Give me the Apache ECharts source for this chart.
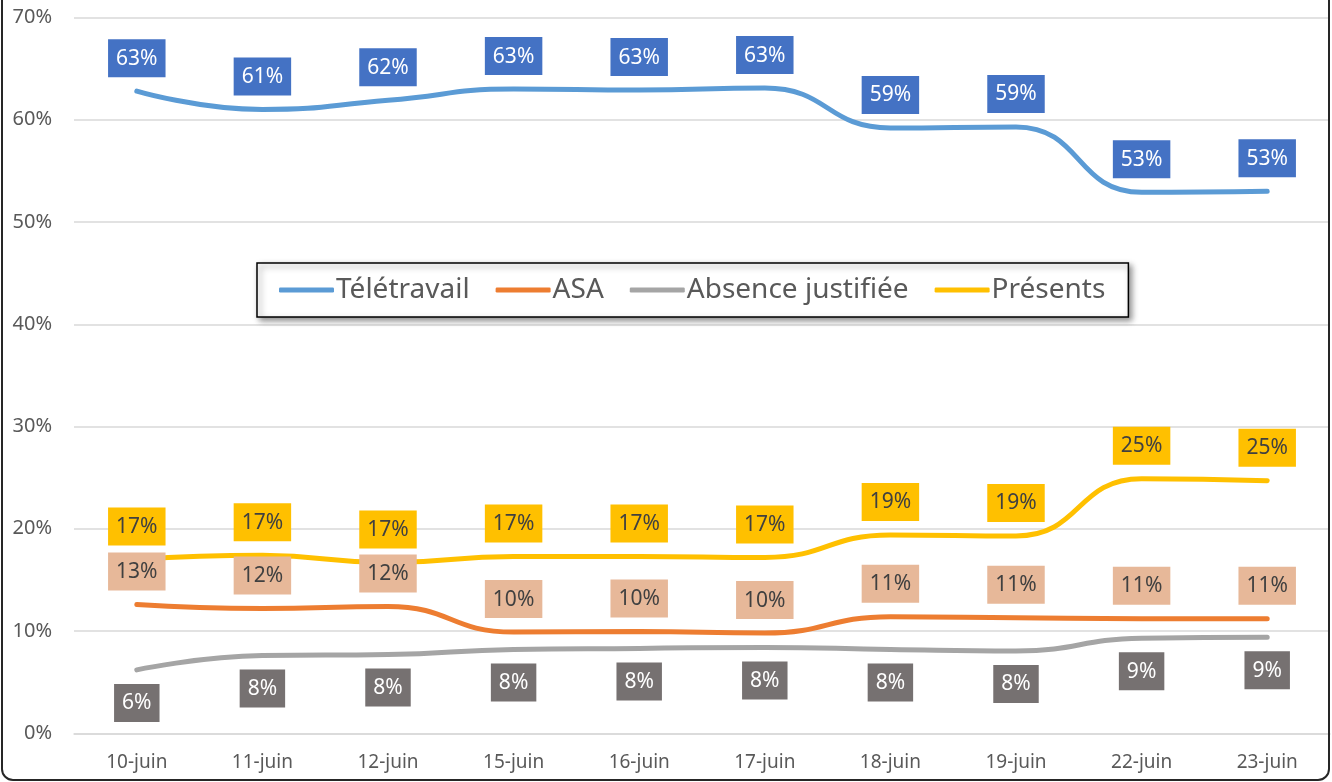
<!DOCTYPE html>
<html>
<head>
<meta charset="utf-8">
<script src="https://cdn.jsdelivr.net/npm/echarts@6/dist/echarts.min.js"></script>
<style>
  html, body { margin: 0; padding: 0; background: #fff; }
  #chart { position: absolute; left: 0; top: 0; width: 1332px; height: 782px; }
  #frame {
    position: absolute; left: 1px; top: -20px; width: 1329px; height: 801px;
    box-sizing: border-box; border: 2px solid #262626; border-radius: 12px;
    pointer-events: none;
  }
</style>
</head>
<body>
<div id="chart"></div>
<div id="frame"></div>
<script>
// jours
var days = ["10-juin", "11-juin", "12-juin", "15-juin", "16-juin", "17-juin", "18-juin", "19-juin", "22-juin", "23-juin"];
// valeurs en %
var teletravail = [62.8, 61.0, 61.9, 63.0, 62.9, 63.1, 59.2, 59.3, 52.9, 53.0];
var asa = [12.6, 12.2, 12.4, 9.9, 9.95, 9.8, 11.4, 11.3, 11.2, 11.2];
var absence = [6.2, 7.6, 7.7, 8.2, 8.3, 8.4, 8.2, 8.06, 9.3, 9.4];
var presents = [17.0, 17.4, 16.7, 17.3, 17.3, 17.2, 19.4, 19.3, 24.9, 24.7];
var yTicks = [0, 10, 20, 30, 40, 50, 60, 70];

var FONT = "Noto Sans";

function serie(name, data, color, labelBg, labelColor, pos) {
  return {
    name: name,
    type: "line",
    data: data,
    smooth: 0.5,
    smoothConstraint: false,
    symbol: "circle",
    symbolSize: 0,
    itemStyle: { color: color },
    lineStyle: { color: color, width: 5, cap: "round" },
    label: {
      show: true,
      position: pos,
      distance: 14,
      formatter: function (p) { return Math.round(p.value) + "%"; },
      backgroundColor: labelBg,
      color: labelColor,
      fontFamily: FONT,
      fontSize: 21,
      lineHeight: 23,
      padding: [8, 8, 7, 8]
    }
  };
}

var chart = echarts.init(document.getElementById("chart"));
var option = {
  animation: false,
  grid: { left: 74, right: 2, top: 17.5, bottom: 48.7 },
  legend: {
    left: 257,
    top: 263,
    padding: [13, 23, 13, 22],
    itemWidth: 55,
    itemHeight: 5,
    itemGap: 26,
    backgroundColor: "#fff",
    borderColor: "#000",
    borderWidth: 1.5,
    shadowColor: "rgba(0,0,0,0.45)",
    shadowBlur: 6,
    shadowOffsetX: 3,
    shadowOffsetY: 3,
    icon: "roundRect",
    textStyle: { color: "#595959", fontFamily: FONT, fontSize: 28, padding: [0, 0, 0, -3] },
    data: ["Télétravail", "ASA", "Absence justifiée", "Présents"]
  },
  xAxis: {
    type: "category",
    data: days,
    axisLine: { show: true, lineStyle: { color: "#d9d9d9", width: 1.5 } },
    axisTick: { show: false },
    axisLabel: { color: "#595959", fontFamily: FONT, fontSize: 19, margin: 20, interval: 0 }
  },
  yAxis: {
    type: "value",
    min: yTicks[0],
    max: yTicks[yTicks.length - 1],
    interval: 10,
    axisLine: { show: false },
    axisTick: { show: false },
    splitLine: { lineStyle: { color: "#d9d9d9", width: 1.5 } },
    axisLabel: { color: "#595959", fontFamily: FONT, fontSize: 20, margin: 22, formatter: "{value}%" }
  },
  series: [
    serie("Télétravail", teletravail, "#5B9BD5", "#4472C4", "#fff", "top"),
    serie("ASA", asa, "#ED7D31", "#E7B899", "#404040", "top"),
    serie("Absence justifiée", absence, "#A5A5A5", "#767171", "#fff", "bottom"),
    serie("Présents", presents, "#FFC000", "#FFC000", "#404040", "top")
  ]
};
chart.setOption(option);
</script>
</body>
</html>
